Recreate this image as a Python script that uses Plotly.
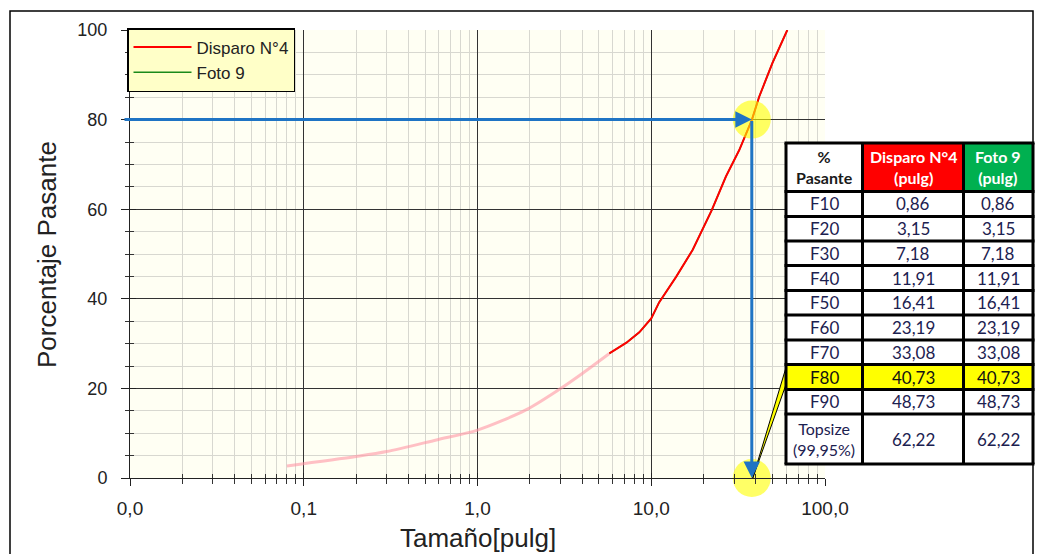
import math
import plotly.graph_objects as go

# ---------------- data ----------------
size_fine = [0.08, 0.2, 0.3, 0.58, 1.0, 1.9, 2.96, 4.03, 5.74]
pass_fine = [2.7, 4.8, 5.9, 8.5, 10.7, 15.2, 19.8, 23.4, 27.8]

size_main = [5.74, 7.2, 8.53, 10.0, 11.1, 13.9, 17.3, 22.3, 26.9, 32.1, 37.9, 41.8, 49.8, 60.7]
pass_main = [27.8, 30.2, 32.5, 35.6, 39.2, 44.9, 50.9, 59.8, 67.3, 73.2, 79.9, 85.1, 92.6, 100]

f80_size = 37.9
f80_pass = 80

x_tickvals = [0.01, 0.1, 1, 10, 100]
x_ticktext = ["0,0", "0,1", "1,0", "10,0", "100,0"]
y_tickvals = [0, 20, 40, 60, 80, 100]

table_header = ["<b>%</b><br><b>Pasante</b>", "<b>Disparo N°4</b><br><b>(pulg)</b>", "<b>Foto 9</b><br><b>(pulg)</b>"]
table_rows = ["F10", "F20", "F30", "F40", "F50", "F60", "F70", "F80", "F90", "Topsize<br>(99,95%)"]
table_disparo = ["0,86", "3,15", "7,18", "11,91", "16,41", "23,19", "33,08", "40,73", "48,73", "62,22"]
table_foto = ["0,86", "3,15", "7,18", "11,91", "16,41", "23,19", "33,08", "40,73", "48,73", "62,22"]
highlight_row = "F80"

# ---------------- layout geometry (pixels) ----------------
W, H = 1038, 554
PL, PR, PT, PB = 130, 825, 30, 478


def px(x):
    return (x - PL) / (PR - PL)


def py(y):
    return (PB - y) / (PB - PT)


minor_x = [m * 10 ** e for e in range(-2, 2) for m in range(2, 10)]

fig = go.Figure()

# green (hidden under red) and red curves
fig.add_trace(go.Scatter(x=size_main, y=pass_main, mode="lines", name="Foto 9",
                         line=dict(color="#1a8a1a", width=1.5),
                         legendrank=2, hoverinfo="skip"))
fig.add_trace(go.Scatter(x=size_fine, y=pass_fine, mode="lines", showlegend=False,
                         line=dict(color="rgba(255,150,165,0.6)", width=3, shape="spline",
                                   smoothing=0.8), hoverinfo="skip"))
fig.add_trace(go.Scatter(x=size_main, y=pass_main, mode="lines", name="Disparo N°4",
                         line=dict(color="#ff0000", width=2),
                         legendrank=1, hoverinfo="skip"))

# yellow highlight circles
fig.add_trace(go.Scatter(x=[f80_size, f80_size], y=[f80_pass, 0], mode="markers",
                         showlegend=False, cliponaxis=False, hoverinfo="skip",
                         marker=dict(size=38, color="rgba(255,255,0,0.6)", line=dict(width=0))))

# dummy trace for overlay axes (inside ticks)
fig.add_trace(go.Scatter(x=[None], y=[None], xaxis="x2", yaxis="y2", showlegend=False,
                         hoverinfo="skip"))

xtickfont = dict(family="Liberation Sans, Arial", size=19, color="#222")
ytickfont = dict(family="Liberation Sans, Arial", size=18, color="#222")

fig.update_layout(
    width=W, height=H,
    margin=dict(l=PL, r=W - PR, t=PT, b=H - PB),
    paper_bgcolor="white",
    plot_bgcolor="#fffff3",
    showlegend=True,
    legend=dict(x=px(127), y=py(28), xanchor="left", yanchor="top",
                bgcolor="#ffffc8", bordercolor="black", borderwidth=1.5,
                font=dict(family="Liberation Sans, Arial", size=17, color="#222"),
                tracegroupgap=0, itemwidth=58),
    xaxis=dict(type="log", range=[-2, 2], tickvals=x_tickvals, ticktext=x_ticktext,
               showgrid=True, gridcolor="#333", gridwidth=1,
               ticks="outside", ticklen=7, tickcolor="#222", tickwidth=1,
               showline=True, linecolor="#222", linewidth=1,
               tickfont=xtickfont, ticklabelstandoff=6, zeroline=False,
               minor=dict(tickvals=minor_x, ticks="outside", ticklen=5, tickcolor="#333",
                          showgrid=True, gridcolor="#d8d8d0", gridwidth=1)),
    yaxis=dict(range=[0, 100], tickvals=y_tickvals,
               showgrid=True, gridcolor="#333", gridwidth=1,
               ticks="outside", ticklen=8, tickcolor="#222", tickwidth=1,
               showline=True, linecolor="#222", linewidth=1,
               tickfont=ytickfont, ticklabelstandoff=10, zeroline=False,
               minor=dict(dtick=5, ticks="outside", ticklen=4, tickcolor="#333",
                          showgrid=True, gridcolor="#d8d8d0", gridwidth=1)),
    xaxis2=dict(type="log", range=[-2, 2], overlaying="x", anchor="y", side="bottom",
                tickvals=x_tickvals, showticklabels=False, showgrid=False,
                ticks="inside", ticklen=5, tickcolor="#222", zeroline=False,
                minor=dict(tickvals=minor_x, ticks="inside", ticklen=4, tickcolor="#333")),
    yaxis2=dict(range=[0, 100], overlaying="y", anchor="x", side="left",
                tickvals=y_tickvals, showticklabels=False, showgrid=False,
                ticks="inside", ticklen=6, tickcolor="#222", zeroline=False,
                minor=dict(dtick=5, ticks="inside", ticklen=4, tickcolor="#333")),
)

shapes = []
annotations = []

# outer frame
shapes.append(dict(type="rect", xref="paper", yref="paper",
                   x0=px(10), x1=px(1033), y0=py(11), y1=py(600),
                   line=dict(color="black", width=1.5), fillcolor="rgba(0,0,0,0)",
                   layer="above"))

# axis titles
annotations.append(dict(text="Porcentaje Pasante", xref="paper", yref="paper",
                        x=px(47), y=py(255), xanchor="center", yanchor="middle",
                        textangle=-90, showarrow=False,
                        font=dict(family="Liberation Sans, Arial", size=26, color="#222")))
annotations.append(dict(text="Tamaño[pulg]", xref="paper", yref="paper",
                        x=px(478), y=py(538), xanchor="center", yanchor="middle",
                        showarrow=False,
                        font=dict(family="Liberation Sans, Arial", size=26, color="#222")))

# blue arrows (annotation coordinates on log axis use log10)
blue = "#1f74c4"
annotations.append(dict(x=math.log10(f80_size), y=f80_pass, xref="x", yref="y",
                        ax=math.log10(0.01) - 7 / 173.75, ay=f80_pass, axref="x", ayref="y",
                        text="", showarrow=True, arrowhead=2, arrowsize=1.1,
                        arrowwidth=3, arrowcolor=blue, standoff=0))
annotations.append(dict(x=math.log10(f80_size), y=0, xref="x", yref="y",
                        ax=math.log10(f80_size), ay=f80_pass, axref="x", ayref="y",
                        text="", showarrow=True, arrowhead=2, arrowsize=1.1,
                        arrowwidth=3, arrowcolor=blue, standoff=0))

# ---------------- table ----------------
col_x = [786, 862.5, 963.5, 1033]
row_y = [143, 191.5, 216.5, 241, 265.5, 290.5, 315, 340, 364.5, 389.5, 414, 464]

# callout wedge from F80 row to bottom circle
hi = table_rows.index(highlight_row) + 1
wx0 = px(col_x[0]); wy0 = py(row_y[hi] + 3); wy1 = py(row_y[hi] + 20)
tx = px(PL + (math.log10(f80_size) + 2) * 173.75 + 1); ty = py(PB)
shapes.append(dict(type="path", xref="paper", yref="paper",
                   path=f"M {wx0} {wy0} L {tx} {ty} L {wx0} {wy1} Z",
                   fillcolor="#ffff00", line=dict(color="black", width=1), layer="above"))

shapes.append(dict(type="rect", xref="paper", yref="paper",
                   x0=px(col_x[0]), x1=px(col_x[-1]), y0=py(row_y[0]), y1=py(row_y[-1]),
                   fillcolor="white", line=dict(width=0), layer="above"))
header_fill = ["white", "#ff0000", "#00b050"]
header_color = ["#1a1a1a", "white", "white"]
for c in range(3):
    shapes.append(dict(type="rect", xref="paper", yref="paper",
                       x0=px(col_x[c]), x1=px(col_x[c + 1]), y0=py(row_y[0]), y1=py(row_y[1]),
                       fillcolor=header_fill[c], line=dict(width=0), layer="above"))
shapes.append(dict(type="rect", xref="paper", yref="paper",
                   x0=px(col_x[0]), x1=px(col_x[-1]), y0=py(row_y[hi]), y1=py(row_y[hi + 1]),
                   fillcolor="#ffff00", line=dict(width=0), layer="above"))
for yv in row_y:
    shapes.append(dict(type="line", xref="paper", yref="paper",
                       x0=px(col_x[0] - 1.5), x1=px(col_x[-1] + 1.5), y0=py(yv), y1=py(yv),
                       line=dict(color="black", width=3), layer="above"))
for xv in col_x:
    shapes.append(dict(type="line", xref="paper", yref="paper",
                       x0=px(xv), x1=px(xv), y0=py(row_y[0]), y1=py(row_y[-1]),
                       line=dict(color="black", width=3), layer="above"))

tfont = "Lato, Calibri, Carlito, sans-serif"
for c in range(3):
    annotations.append(dict(text=table_header[c], xref="paper", yref="paper",
                            x=px((col_x[c] + col_x[c + 1]) / 2), y=py((row_y[0] + row_y[1]) / 2),
                            xanchor="center", yanchor="middle",
                            showarrow=False, align="center",
                            font=dict(family=tfont, size=16, color=header_color[c])))
for r, (lab, d, f) in enumerate(zip(table_rows, table_disparo, table_foto)):
    yc = py((row_y[r + 1] + row_y[r + 2]) / 2)
    color = "#111111" if lab == highlight_row else "#1c2150"
    size = 16 if "<br>" in lab else 17
    for c, txt in enumerate([lab, d, f]):
        annotations.append(dict(text=txt, xref="paper", yref="paper",
                                x=px((col_x[c] + col_x[c + 1]) / 2), y=yc,
                                xanchor="center", yanchor="middle",
                                showarrow=False, align="center",
                                font=dict(family=tfont, size=size if c == 0 else 17,
                                          color=color)))

fig.update_layout(shapes=shapes, annotations=annotations)

fig.write_html("out.html")
